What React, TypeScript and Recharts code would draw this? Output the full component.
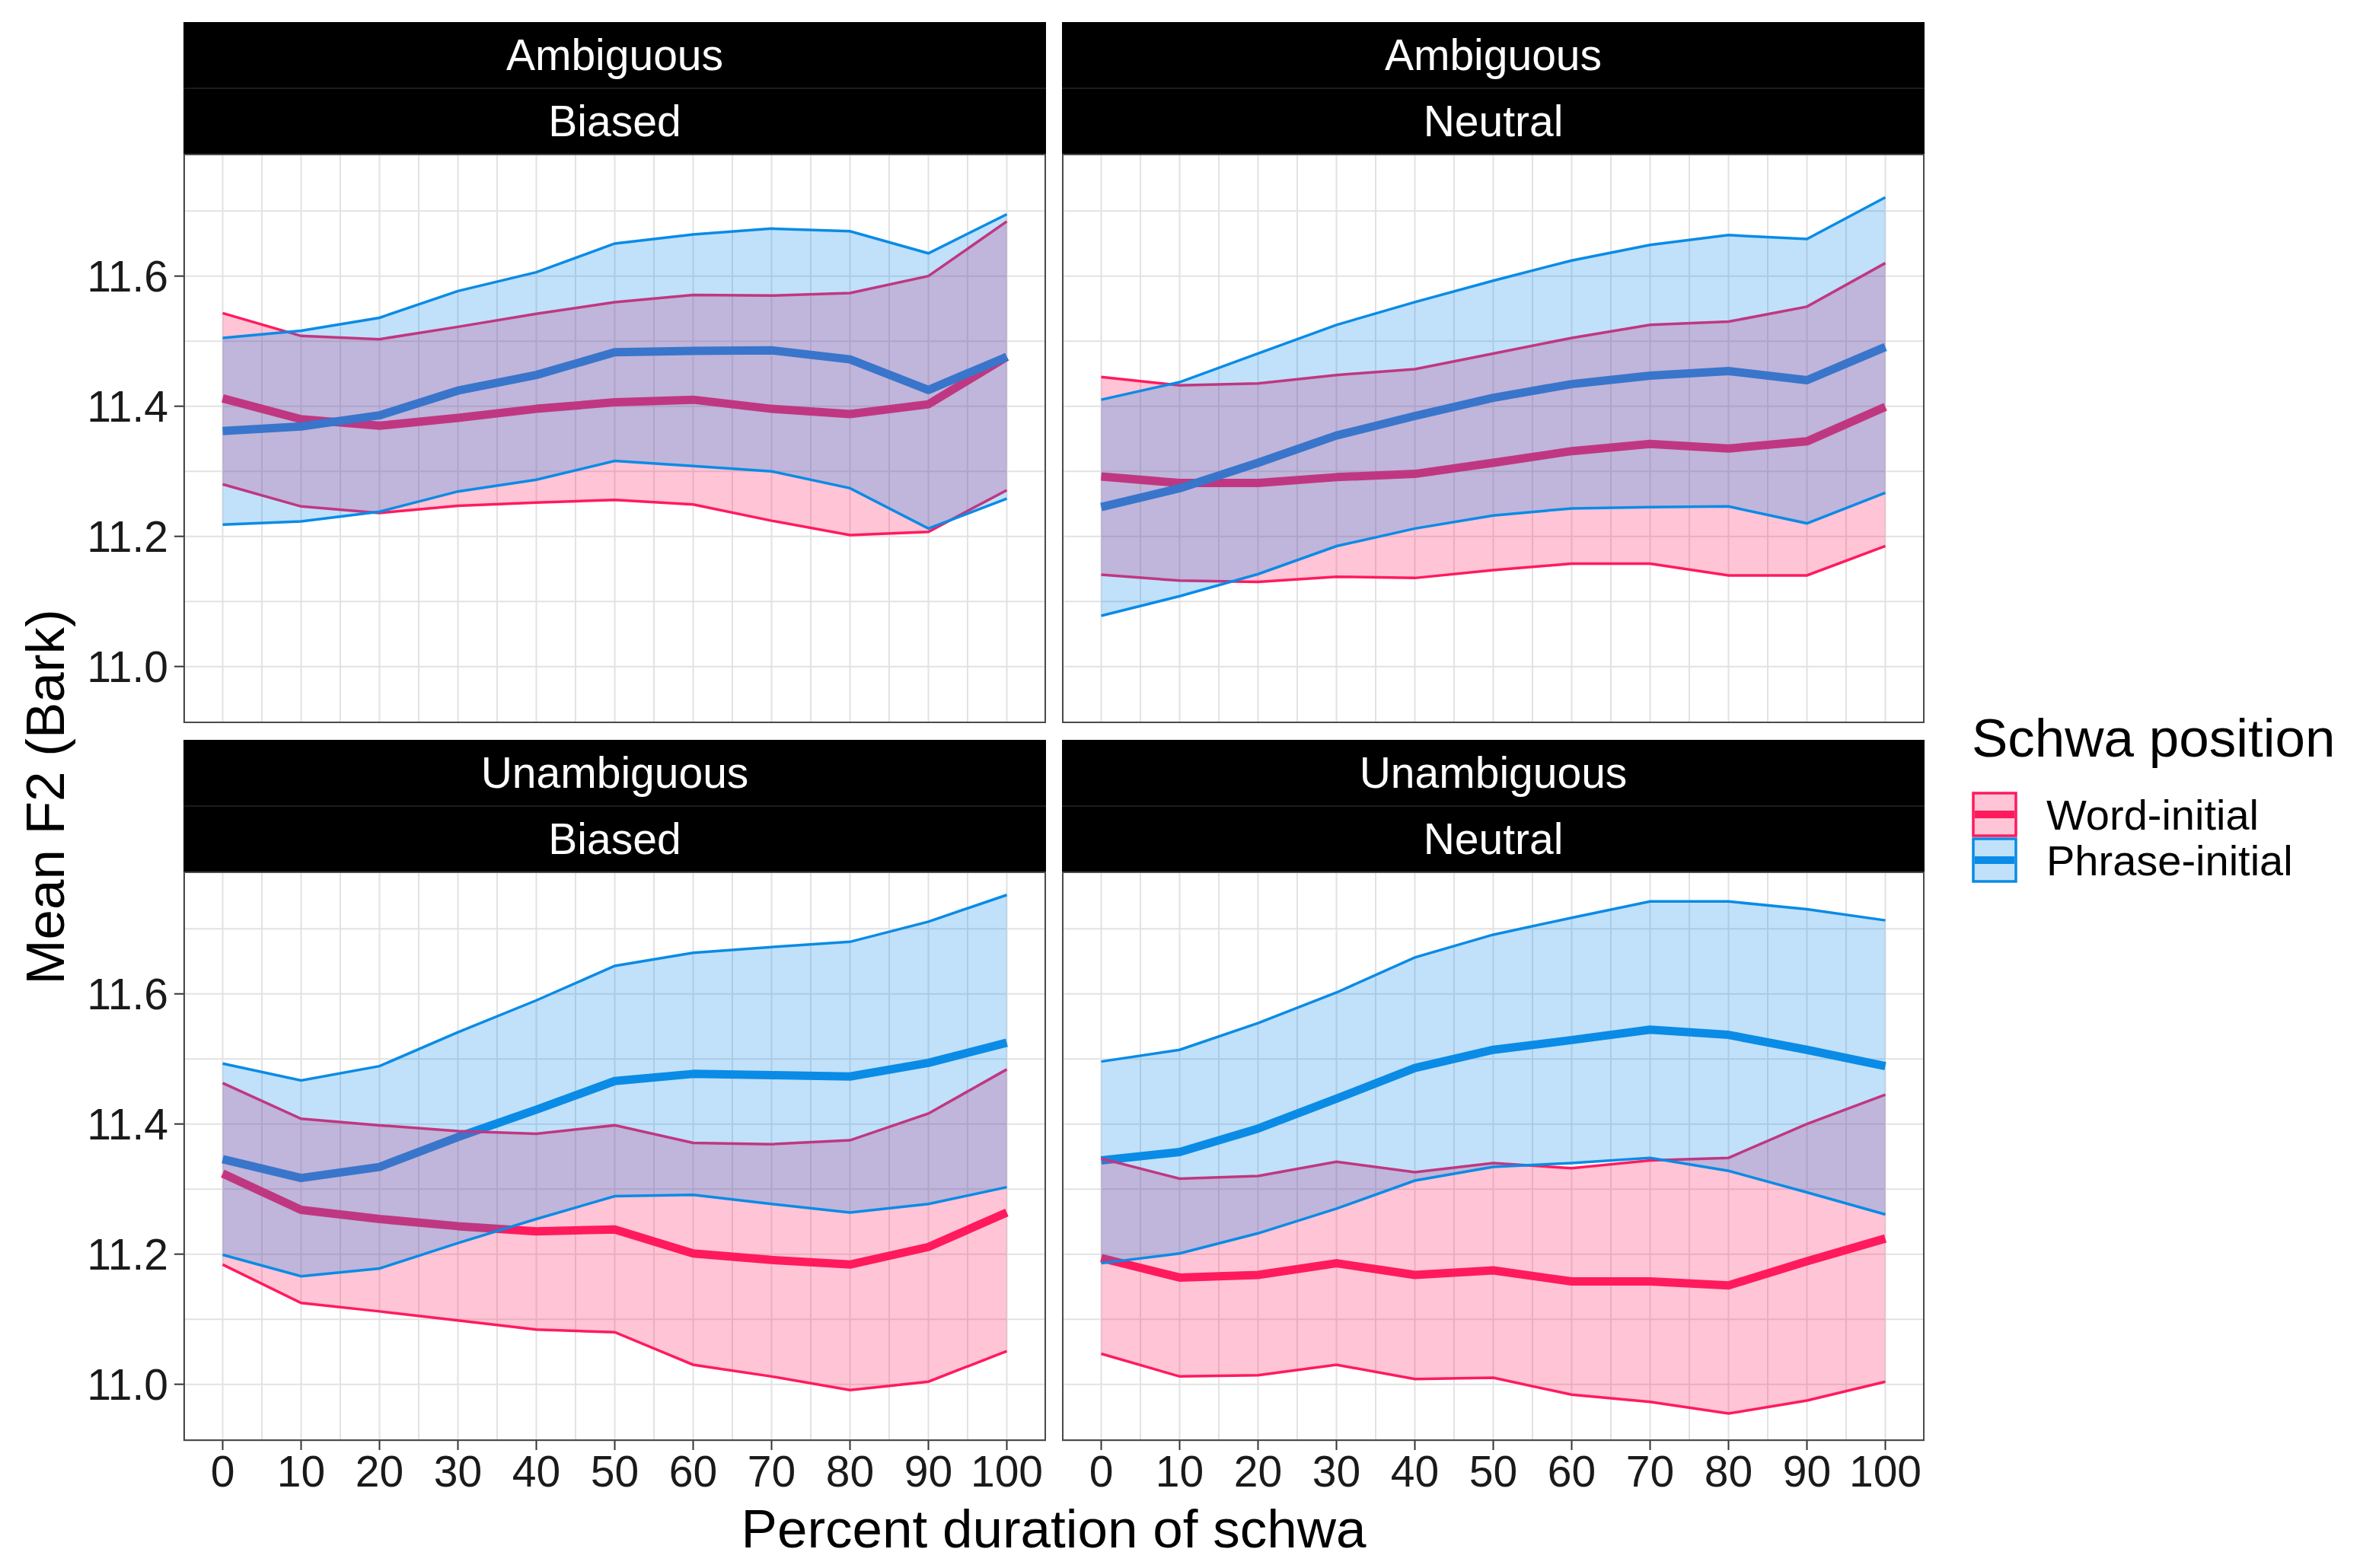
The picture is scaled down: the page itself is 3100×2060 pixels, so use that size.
import React from "react"
import { ComposedChart, Line, Area, XAxis, YAxis, CartesianGrid } from "recharts"

// percent of schwa duration (x) shared by every facet
const PERCENT = [0, 10, 20, 30, 40, 50, 60, 70, 80, 90, 100]

// Ambiguous / Biased
const AMB_BIA_WORD_HI = [11.543, 11.508, 11.503, 11.522, 11.542, 11.56, 11.571, 11.57, 11.574, 11.6, 11.684]
const AMB_BIA_WORD_MEAN = [11.412, 11.38, 11.37, 11.382, 11.396, 11.406, 11.41, 11.396, 11.388, 11.403, 11.476]
const AMB_BIA_WORD_LO = [11.28, 11.246, 11.236, 11.247, 11.252, 11.256, 11.249, 11.224, 11.202, 11.207, 11.271]
const AMB_BIA_PHRASE_HI = [11.505, 11.516, 11.536, 11.577, 11.606, 11.65, 11.664, 11.673, 11.669, 11.635, 11.695]
const AMB_BIA_PHRASE_MEAN = [11.362, 11.369, 11.386, 11.424, 11.448, 11.483, 11.485, 11.486, 11.472, 11.425, 11.476]
const AMB_BIA_PHRASE_LO = [11.218, 11.223, 11.238, 11.269, 11.287, 11.316, 11.308, 11.3, 11.274, 11.212, 11.258]

// Ambiguous / Neutral
const AMB_NEU_WORD_HI = [11.445, 11.432, 11.435, 11.448, 11.457, 11.481, 11.505, 11.525, 11.53, 11.553, 11.62]
const AMB_NEU_WORD_MEAN = [11.292, 11.282, 11.282, 11.291, 11.296, 11.313, 11.331, 11.342, 11.335, 11.346, 11.399]
const AMB_NEU_WORD_LO = [11.141, 11.132, 11.13, 11.138, 11.136, 11.148, 11.158, 11.158, 11.14, 11.14, 11.185]
const AMB_NEU_PHRASE_HI = [11.41, 11.437, 11.481, 11.525, 11.56, 11.593, 11.624, 11.648, 11.663, 11.657, 11.721]
const AMB_NEU_PHRASE_MEAN = [11.245, 11.274, 11.313, 11.355, 11.385, 11.413, 11.434, 11.447, 11.454, 11.44, 11.491]
const AMB_NEU_PHRASE_LO = [11.078, 11.108, 11.142, 11.185, 11.212, 11.232, 11.243, 11.245, 11.246, 11.22, 11.267]

// Unambiguous / Biased
const UNA_BIA_WORD_HI = [11.463, 11.408, 11.398, 11.389, 11.385, 11.398, 11.371, 11.369, 11.375, 11.416, 11.484]
const UNA_BIA_WORD_MEAN = [11.324, 11.268, 11.254, 11.243, 11.235, 11.238, 11.201, 11.191, 11.184, 11.211, 11.264]
const UNA_BIA_WORD_LO = [11.184, 11.125, 11.112, 11.098, 11.084, 11.08, 11.03, 11.012, 10.991, 11.004, 11.051]
const UNA_BIA_PHRASE_HI = [11.493, 11.467, 11.489, 11.541, 11.59, 11.643, 11.663, 11.672, 11.68, 11.711, 11.752]
const UNA_BIA_PHRASE_MEAN = [11.346, 11.317, 11.334, 11.38, 11.422, 11.466, 11.477, 11.475, 11.473, 11.494, 11.525]
const UNA_BIA_PHRASE_LO = [11.199, 11.166, 11.178, 11.217, 11.254, 11.289, 11.291, 11.277, 11.264, 11.277, 11.303]

// Unambiguous / Neutral
const UNA_NEU_WORD_HI = [11.347, 11.316, 11.32, 11.342, 11.326, 11.34, 11.332, 11.344, 11.348, 11.4, 11.445]
const UNA_NEU_WORD_MEAN = [11.194, 11.164, 11.168, 11.186, 11.168, 11.175, 11.158, 11.158, 11.152, 11.189, 11.224]
const UNA_NEU_WORD_LO = [11.047, 11.012, 11.014, 11.03, 11.008, 11.01, 10.984, 10.973, 10.955, 10.975, 11.004]
const UNA_NEU_PHRASE_HI = [11.496, 11.514, 11.555, 11.602, 11.656, 11.691, 11.717, 11.742, 11.742, 11.73, 11.713]
const UNA_NEU_PHRASE_MEAN = [11.344, 11.357, 11.393, 11.439, 11.486, 11.514, 11.529, 11.545, 11.537, 11.514, 11.489]
const UNA_NEU_PHRASE_LO = [11.186, 11.201, 11.232, 11.27, 11.313, 11.334, 11.34, 11.348, 11.328, 11.295, 11.261]

const X_TICKS = [0, 10, 20, 30, 40, 50, 60, 70, 80, 90, 100]
const X_GRID = [0, 5, 10, 15, 20, 25, 30, 35, 40, 45, 50, 55, 60, 65, 70, 75, 80, 85, 90, 95, 100]
const Y_TICKS = [11.0, 11.2, 11.4, 11.6]
const Y_GRID = [11.0, 11.1, 11.2, 11.3, 11.4, 11.5, 11.6, 11.7]
const X_DOMAIN = [-5, 105]
const Y_DOMAIN = [10.913, 11.788]

const SERIES_NAMES = ["Word-initial", "Phrase-initial"]
const SERIES_COLORS = ["#ff1a5e", "#0a8be6"]
const LEGEND_TITLE = "Schwa position"
const X_TITLE = "Percent duration of schwa"
const Y_TITLE = "Mean F2 (Bark)"

const FONT = "'Liberation Sans', Arial, Helvetica, sans-serif"
const FILL_OPACITY = 0.26

const PANELS = [
  {
    top: "Ambiguous", bottom: "Biased", left: 241, y: 29, showX: false, showY: true,
    word: [AMB_BIA_WORD_LO, AMB_BIA_WORD_MEAN, AMB_BIA_WORD_HI],
    phrase: [AMB_BIA_PHRASE_LO, AMB_BIA_PHRASE_MEAN, AMB_BIA_PHRASE_HI],
  },
  {
    top: "Ambiguous", bottom: "Neutral", left: 1395, y: 29, showX: false, showY: false,
    word: [AMB_NEU_WORD_LO, AMB_NEU_WORD_MEAN, AMB_NEU_WORD_HI],
    phrase: [AMB_NEU_PHRASE_LO, AMB_NEU_PHRASE_MEAN, AMB_NEU_PHRASE_HI],
  },
  {
    top: "Unambiguous", bottom: "Biased", left: 241, y: 972, showX: true, showY: true,
    word: [UNA_BIA_WORD_LO, UNA_BIA_WORD_MEAN, UNA_BIA_WORD_HI],
    phrase: [UNA_BIA_PHRASE_LO, UNA_BIA_PHRASE_MEAN, UNA_BIA_PHRASE_HI],
  },
  {
    top: "Unambiguous", bottom: "Neutral", left: 1395, y: 972, showX: true, showY: false,
    word: [UNA_NEU_WORD_LO, UNA_NEU_WORD_MEAN, UNA_NEU_WORD_HI],
    phrase: [UNA_NEU_PHRASE_LO, UNA_NEU_PHRASE_MEAN, UNA_NEU_PHRASE_HI],
  },
]

const PANEL_W = 1133
const PANEL_H = 748
const STRIP_H = 173
const Y_AXIS_W = 130
const X_AXIS_H = 90

function Facet({ panel }) {
  const data = PERCENT.map((pct, i) => ({
    pct,
    wordBand: [panel.word[0][i], panel.word[2][i]],
    wordMean: panel.word[1][i],
    phraseBand: [panel.phrase[0][i], panel.phrase[2][i]],
    phraseMean: panel.phrase[1][i],
  }))
  const yw = panel.showY ? Y_AXIS_W : 0
  const xh = panel.showX ? X_AXIS_H : 0
  const tickStyle = { fontSize: 57, fill: "#1a1a1a", fontFamily: FONT }

  return (
    <>
      <div
        style={{
          position: "absolute", left: panel.left, top: panel.y, width: PANEL_W, height: STRIP_H,
          background: "#000", color: "#fff", fontFamily: FONT, fontSize: 57,
        }}
      >
        <div style={{ height: 86, lineHeight: "86px", textAlign: "center", borderBottom: "2px solid #1c1c1c" }}>
          {panel.top}
        </div>
        <div style={{ height: 85, lineHeight: "85px", textAlign: "center" }}>{panel.bottom}</div>
      </div>
      <div style={{ position: "absolute", left: panel.left - yw, top: panel.y + STRIP_H, fontFamily: FONT }}>
        <ComposedChart
          width={PANEL_W + yw}
          height={PANEL_H + xh}
          data={data}
          margin={{ top: 0, right: 0, bottom: 0, left: 0 }}
        >
          <XAxis xAxisId="grid" dataKey="pct" type="number" domain={X_DOMAIN} ticks={X_GRID} allowDataOverflow hide />
          <YAxis yAxisId="grid" type="number" domain={Y_DOMAIN} ticks={Y_GRID} allowDataOverflow hide />
          <CartesianGrid xAxisId="grid" yAxisId="grid" stroke="#e2e2e2" strokeWidth={2} />
          <XAxis
            dataKey="pct"
            type="number"
            domain={X_DOMAIN}
            ticks={X_TICKS}
            interval={0}
            allowDataOverflow
            hide={!panel.showX}
            height={xh}
            axisLine={false}
            tickSize={12}
            tickMargin={8}
            tickLine={{ stroke: "#333", strokeWidth: 2 }}
            tick={tickStyle}
          />
          <YAxis
            type="number"
            domain={Y_DOMAIN}
            ticks={Y_TICKS}
            interval={0}
            allowDataOverflow
            hide={!panel.showY}
            width={yw}
            axisLine={false}
            tickSize={12}
            tickMargin={8}
            tickLine={{ stroke: "#333", strokeWidth: 2 }}
            tick={tickStyle}
            tickFormatter={(v) => v.toFixed(1)}
          />
          <Line
            dataKey="wordMean"
            type="linear"
            stroke={SERIES_COLORS[0]}
            strokeWidth={11}
            strokeLinejoin="round"
            dot={false}
            activeDot={false}
            isAnimationActive={false}
            zIndex={50}
          />
          <Line
            dataKey="phraseMean"
            type="linear"
            stroke={SERIES_COLORS[1]}
            strokeWidth={11}
            strokeLinejoin="round"
            dot={false}
            activeDot={false}
            isAnimationActive={false}
            zIndex={51}
          />
          <Area
            dataKey="wordBand"
            type="linear"
            fill={SERIES_COLORS[0]}
            fillOpacity={FILL_OPACITY}
            stroke={SERIES_COLORS[0]}
            strokeWidth={3.5}
            dot={false}
            activeDot={false}
            isAnimationActive={false}
            zIndex={100}
          />
          <Area
            dataKey="phraseBand"
            type="linear"
            fill={SERIES_COLORS[1]}
            fillOpacity={FILL_OPACITY}
            stroke={SERIES_COLORS[1]}
            strokeWidth={3.5}
            dot={false}
            activeDot={false}
            isAnimationActive={false}
            zIndex={110}
          />
        </ComposedChart>
      </div>
      <div
        style={{
          position: "absolute", left: panel.left, top: panel.y + STRIP_H, width: PANEL_W, height: PANEL_H,
          border: "2px solid #4a4a4a", boxSizing: "border-box", pointerEvents: "none",
        }}
      />
    </>
  )
}

export default function App() {
  return (
    <div style={{ position: "absolute", left: 0, top: 0, width: 3100, height: 2060, background: "#fff", overflow: "hidden" }}>
      {PANELS.map((p) => (
        <Facet key={p.top + p.bottom} panel={p} />
      ))}
      <svg width={3100} height={2060} style={{ position: "absolute", left: 0, top: 0, pointerEvents: "none" }}>
        <text
          x={59}
          y={1047}
          transform="rotate(-90 59 1047)"
          textAnchor="middle"
          dominantBaseline="central"
          fontFamily={FONT}
          fontSize={71}
          fill="#000"
        >
          {Y_TITLE}
        </text>
        <text x={1384} y={2033} textAnchor="middle" fontFamily={FONT} fontSize={71} fill="#000">
          {X_TITLE}
        </text>
        <text x={2590} y={994} fontFamily={FONT} fontSize={71} fill="#000">
          {LEGEND_TITLE}
        </text>
        {SERIES_NAMES.map((name, i) => {
          const top = 1042 + i * 60
          return (
            <g key={name}>
              <rect x={2592} y={top} width={56} height={56} fill="#fff" />
              <rect
                x={2592}
                y={top}
                width={56}
                height={56}
                fill={SERIES_COLORS[i]}
                fillOpacity={FILL_OPACITY}
                stroke={SERIES_COLORS[i]}
                strokeWidth={3.5}
              />
              <line x1={2594} x2={2646} y1={top + 28} y2={top + 28} stroke={SERIES_COLORS[i]} strokeWidth={10} />
              <text x={2688} y={top + 28} dominantBaseline="central" fontFamily={FONT} fontSize={56} fill="#000">
                {name}
              </text>
            </g>
          )
        })}
      </svg>
    </div>
  )
}
